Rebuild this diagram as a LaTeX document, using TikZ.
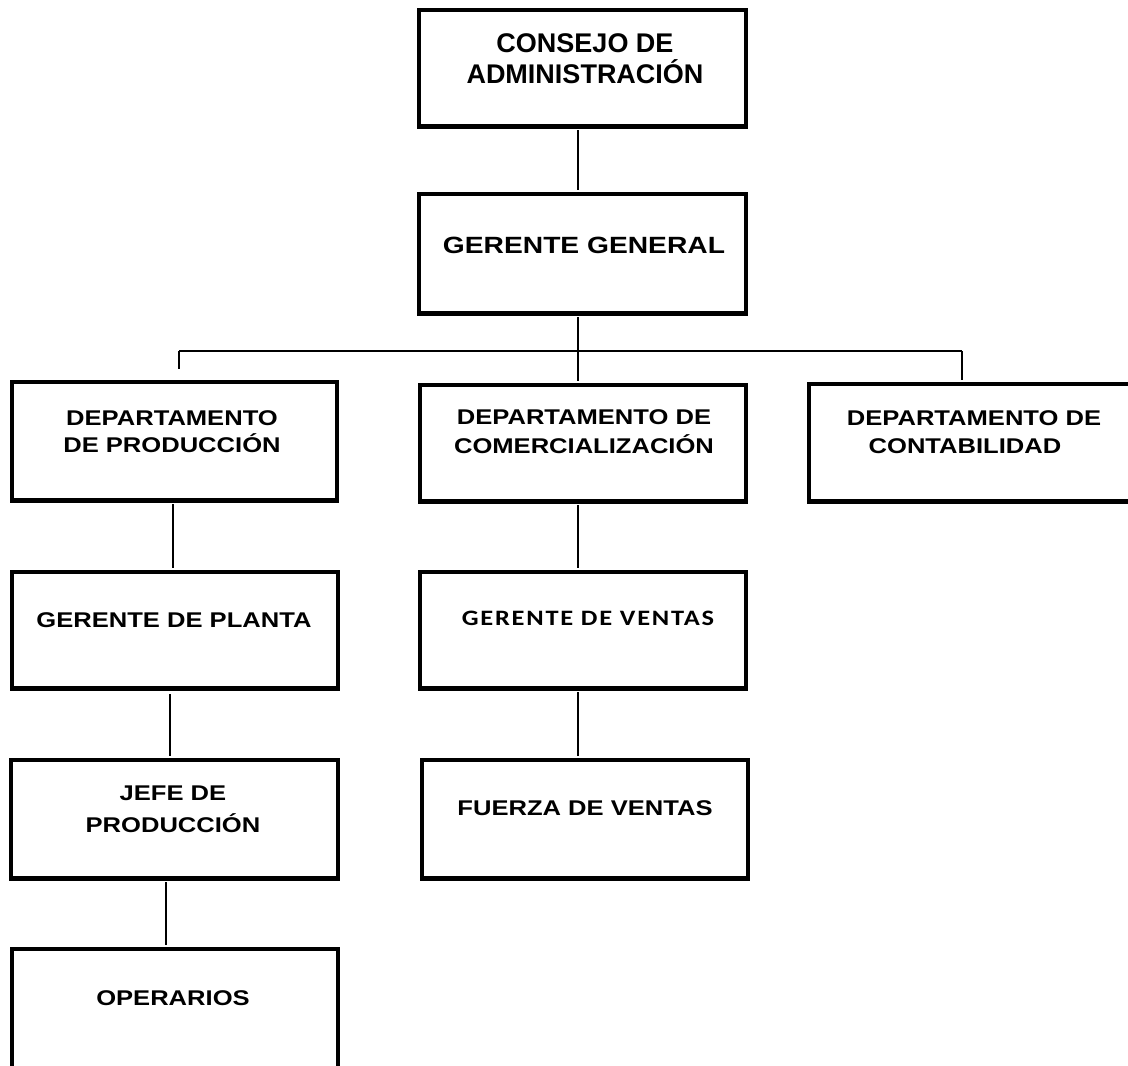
\documentclass[tikz,border=0pt]{standalone}
\usepackage{fontspec}
\setmainfont{Liberation Sans}
\newfontfamily\ttlfont{Liberation Sans}
\newfontfamily\ggfont[FakeStretch=1.2]{Liberation Sans}
\newfontfamily\smfont[FakeStretch=1.2]{Liberation Sans}
\newfontfamily\calfont[FakeStretch=1.2,LetterSpace=8]{Carlito}
\tikzset{
  box/.style={draw=black, line width=4pt, inner sep=0pt, fill=white,
    preaction={draw=black, line width=4pt, transform canvas={shift={(0.8pt,-0.8pt)}}}},
  conn/.style={draw=black, line width=1.6pt},
  lbl/.style={anchor=base, inner sep=0pt},
  ttl/.style={lbl, font=\ttlfont\bfseries\fontsize{27pt}{31pt}\selectfont},
  ggl/.style={lbl, font=\ggfont\bfseries\fontsize{23.5pt}{28pt}\selectfont},
  sml/.style={lbl, font=\smfont\bfseries\fontsize{21.3pt}{25pt}\selectfont},
  cal/.style={lbl, font=\calfont\bfseries\fontsize{22pt}{25pt}\selectfont},
}
\begin{document}
\begin{tikzpicture}[x=1pt,y=-1pt]
\path[use as bounding box] (0,0) rectangle (1128,1066);
\clip (0,0) rectangle (1128,1066);
\fill[white] (0,0) rectangle (1128,1066);
% bus coordinates
\coordinate (bm) at (578,351);
\coordinate (bl) at (179,351);
\coordinate (br) at (962,351);
% boxes
\node[box, minimum width=327pt, minimum height=116pt] (cons) at (582,68) {};
\node[box, minimum width=327pt, minimum height=119pt] (gg) at (582,253.5) {};
\node[box, minimum width=325pt, minimum height=118pt] (dp) at (174,441) {};
\node[box, minimum width=326pt, minimum height=116pt] (dc) at (582.5,443) {};
\node[box, minimum width=339pt, minimum height=117pt] (cont) at (978,442.5) {};
\node[box, minimum width=326pt, minimum height=116pt] (gp) at (174.5,630) {};
\node[box, minimum width=326pt, minimum height=116pt] (gv) at (582.5,630) {};
\node[box, minimum width=327pt, minimum height=118pt] (jp) at (174,819) {};
\node[box, minimum width=326pt, minimum height=118pt] (fv) at (584.5,819) {};
\node[box, minimum width=326pt, minimum height=125pt] (op) at (174.5,1011) {};
% connectors
\draw[conn] ([xshift=-4pt,yshift=-2pt]cons.south) -- ([xshift=-4pt,yshift=2pt]gg.north);
\draw[conn] ([xshift=-4pt,yshift=-2pt]gg.south) -- (bm);
\draw[conn] (bl) -- (br);
\draw[conn] (bl) -- ([xshift=5pt,yshift=11pt]dp.north);
\draw[conn] (bm) -- ([xshift=-4.5pt,yshift=2pt]dc.north);
\draw[conn] (br) -- ([xshift=-16pt,yshift=2pt]cont.north);
\draw[conn] ([xshift=-1pt,yshift=-2pt]dp.south) -- ([xshift=-1.5pt,yshift=2pt]gp.north);
\draw[conn] ([xshift=-4.5pt,yshift=-4pt]gp.south) -- ([xshift=-4pt,yshift=2pt]jp.north);
\draw[conn] ([xshift=-8pt,yshift=-2pt]jp.south) -- ([xshift=-8.5pt,yshift=2pt]op.north);
\draw[conn] ([xshift=-4.5pt,yshift=-2pt]dc.south) -- ([xshift=-4.5pt,yshift=2pt]gv.north);
\draw[conn] ([xshift=-4.5pt,yshift=-2pt]gv.south) -- ([xshift=-6.5pt,yshift=2pt]fv.north);
% labels
\node[ttl] (consA) at (585,52) {CONSEJO DE};
\node[ttl] (consB) at (585,83) {ADMINISTRACIÓN};
\node[ggl] (ggA) at (584,253) {GERENTE GENERAL};
\node[sml] (dpA) at (172,425) {DEPARTAMENTO};
\node[sml] (dpB) at (172,452) {DE PRODUCCIÓN};
\node[sml] (dcA) at (584,424) {DEPARTAMENTO DE};
\node[sml] (dcB) at (584,453) {COMERCIALIZACIÓN};
\node[sml] (contA) at (974,425) {DEPARTAMENTO DE};
\node[sml] (contB) at (965,453) {CONTABILIDAD};
\node[sml] (gpA) at (174,627) {GERENTE DE PLANTA};
\node[cal] (gvA) at (588,625) {GERENTE DE VENTAS};
\node[sml] (jpA) at (173,800) {JEFE DE};
\node[sml] (jpB) at (173,832) {PRODUCCIÓN};
\node[sml] (fvA) at (585,815) {FUERZA DE VENTAS};
\node[sml] (opA) at (173,1005) {OPERARIOS};
\end{tikzpicture}
\end{document}
